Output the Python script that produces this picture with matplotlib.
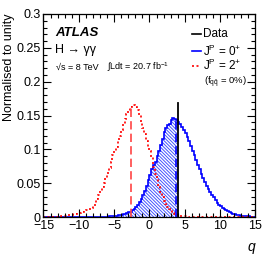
import numpy as np
import matplotlib
matplotlib.use("Agg")
import matplotlib.pyplot as plt
from matplotlib.ticker import MultipleLocator, FixedLocator, FixedFormatter

plt.rcParams['font.family'] = ['Liberation Sans', 'DejaVu Sans']
plt.rcParams['mathtext.fontset'] = 'custom'
plt.rcParams['mathtext.rm'] = 'Liberation Sans'
plt.rcParams['mathtext.it'] = 'Liberation Sans:italic'
plt.rcParams['mathtext.bf'] = 'Liberation Sans:bold'
plt.rcParams['hatch.linewidth'] = 0.7

# ---- data ----
bin_edges = np.linspace(-15, 15, 121)
spin0_vals = ([0] * 34 +
              [0.0003, 0.0005, 0.0007, 0.001, 0.0012, 0.0015, 0.0018, 0.002, 0.0025, 0.003,
               0.0035, 0.004, 0.005, 0.006, 0.007, 0.008, 0.010, 0.012, 0.015, 0.018,
               0.022, 0.027, 0.033, 0.039, 0.046, 0.055,
               0.062, 0.071, 0.077, 0.081, 0.090, 0.098, 0.106, 0.116, 0.126, 0.132,
               0.136, 0.138, 0.143, 0.147, 0.145, 0.144, 0.141, 0.137, 0.133, 0.129,
               0.124, 0.118, 0.112, 0.105, 0.098, 0.091, 0.084, 0.077, 0.071, 0.064,
               0.058, 0.052, 0.046, 0.041, 0.037, 0.033, 0.029, 0.025, 0.021, 0.018,
               0.016, 0.014, 0.012, 0.010, 0.009, 0.007, 0.006, 0.005, 0.004, 0.003,
               0.0025, 0.002, 0.0018, 0.0015, 0.0012, 0.001, 0.001, 0.0008, 0.0006, 0.0005])
spin2_vals = [0, 0, 0, 0, 0, 0, 0.0002, 0.0003, 0.0005, 0.0007,
              0.001, 0.0013, 0.0016, 0.002, 0.0025, 0.003, 0.0035, 0.004, 0.005, 0.0055,
              0.006, 0.007, 0.008, 0.009, 0.010, 0.011, 0.012, 0.014, 0.017, 0.021,
              0.027, 0.032, 0.038, 0.044, 0.051, 0.058, 0.065, 0.072, 0.082, 0.091,
              0.097, 0.104, 0.112, 0.120, 0.128, 0.137, 0.145, 0.152, 0.158, 0.162,
              0.165, 0.166, 0.163, 0.158, 0.151, 0.141, 0.131, 0.122, 0.113, 0.104,
              0.097, 0.088, 0.074, 0.064, 0.054, 0.045, 0.037, 0.030, 0.024, 0.019,
              0.015, 0.012, 0.009, 0.006, 0.005, 0.003, 0.002, 0.0015, 0.001, 0.002,
              0.0015, 0.001, 0.0005, 0, 0, 0, 0, 0, 0, 0] + [0] * 30
median_spin0 = 3.7
median_spin2 = -2.67
q_data = 4.0
data_line_height = 0.168

xticks = [-15, -10, -5, 0, 5, 10, 15]
yticks = [0, 0.05, 0.1, 0.15, 0.2, 0.25, 0.3]
ytick_labels = ['0', '0.05', '0.1', '0.15', '0.2', '0.25', '0.3']

# ---- figure ----
fig = plt.figure(figsize=(2.70, 2.59), dpi=100)
ax = fig.add_axes([0.161, 0.162, 0.785, 0.784])

edges = np.asarray(bin_edges)
s0 = np.asarray(spin0_vals, dtype=float)
s2 = np.asarray(spin2_vals, dtype=float)

# hatched area under 0+ left of the data value
fill_x = np.append(edges[:-1], edges[-1])
fill_y = np.append(s0, s0[-1])
mask = fill_x <= q_data + 1e-9
idx_data = np.searchsorted(edges, q_data, side='right') - 1
xs = np.append(fill_x[mask], q_data)
ys = np.append(fill_y[mask], s0[idx_data])
ax.fill_between(xs, 0, ys, step='post', facecolor='none', edgecolor='#4455ff',
                hatch='\\\\\\\\\\\\\\\\\\\\', linewidth=0)

ax.stairs(s0, edges, color='#0000ff', linewidth=1.2)
ax.stairs(s2, edges, color='#ff0000', linewidth=1.2, linestyle=(0, (1.2, 1.5)))

h0 = s0[np.searchsorted(edges, median_spin0, side='right') - 1]
h2 = s2[np.searchsorted(edges, median_spin2, side='right') - 1]
ax.plot([median_spin0, median_spin0], [0, h0], color='#0000ff', lw=1.2, linestyle=(0, (5, 2.5)))
ax.plot([median_spin2, median_spin2], [0, h2], color='#ff4444', lw=1.2, linestyle=(0, (5, 2.5)))
ax.plot([q_data, q_data], [0, data_line_height], color='black', lw=1.3)

ax.set_xlim(-15, 15)
ax.set_ylim(0, 0.3)
ax.xaxis.set_major_locator(FixedLocator(xticks))
ax.xaxis.set_minor_locator(MultipleLocator(1))
ax.yaxis.set_major_locator(FixedLocator(yticks))
ax.yaxis.set_major_formatter(FixedFormatter(ytick_labels))
ax.yaxis.set_minor_locator(MultipleLocator(0.01))
ax.tick_params(which='both', direction='in', top=True, right=True, labelsize=9, width=0.8)
ax.tick_params(which='major', length=6)
ax.tick_params(which='minor', length=3)
ax.tick_params(axis='x', pad=2)
ax.tick_params(axis='y', pad=2)
for sp in ax.spines.values():
    sp.set_linewidth(0.9)

ax.set_ylabel('Normalised to unity', loc='top', fontsize=9)
ax.yaxis.set_label_coords(-0.135, 1.0)
ax.set_xlabel('q', loc='right', fontsize=10, style='italic')
ax.xaxis.set_label_coords(1.0, -0.115)

# texts
ax.text(0.054, 0.905, 'ATLAS', transform=ax.transAxes, fontsize=9.5, fontweight='bold',
        style='italic', va='center')
ax.text(0.054, 0.822, 'H \u2192 \u03b3\u03b3', transform=ax.transAxes, fontsize=9, va='center')
ax.text(0.06, 0.739, '\u221as = 8 TeV', transform=ax.transAxes, fontsize=6.5, va='center')
ax.text(0.30, 0.739, r'$\int$Ldt = 20.7 fb$^{-1}$', transform=ax.transAxes, fontsize=6.5, va='center')

# legend
ax.plot([0.70, 0.745], [0.901, 0.901], transform=ax.transAxes, color='black', lw=1.2)
ax.text(0.755, 0.901, 'Data', transform=ax.transAxes, fontsize=8.5, va='center')
ax.plot([0.70, 0.745], [0.818, 0.818], transform=ax.transAxes, color='#0000ff', lw=1.2)
ax.text(0.755, 0.818, r'J$^{\rm P}$ = 0$^{+}$', transform=ax.transAxes, fontsize=8.5, va='center')
ax.plot([0.70, 0.745], [0.745, 0.745], transform=ax.transAxes, color='#ff0000', lw=1.2,
        linestyle=(0, (1.2, 1.5)))
ax.text(0.755, 0.745, r'J$^{\rm P}$ = 2$^{+}$', transform=ax.transAxes, fontsize=8.5, va='center')
ax.text(0.757, 0.662, r'(f$_{\rm q\bar{q}}$ = 0%)', transform=ax.transAxes, fontsize=6.8, va='center')

fig.savefig('out.png', dpi=100)
